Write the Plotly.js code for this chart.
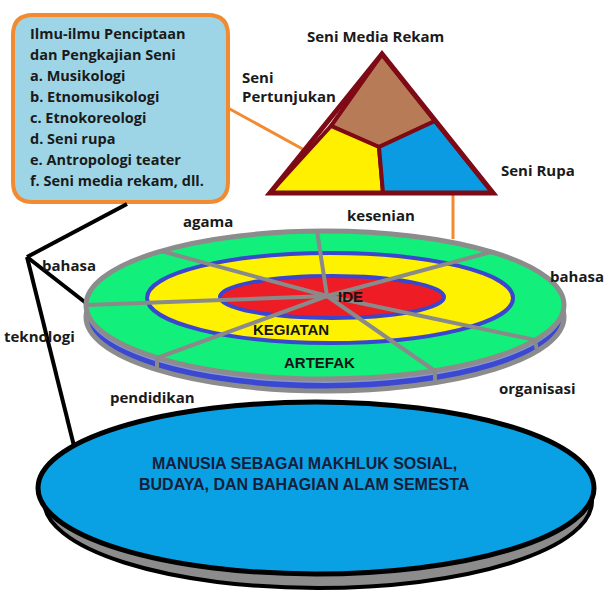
<!DOCTYPE html>
<html><head><meta charset="utf-8">
<script src="https://cdn.plot.ly/plotly-3.0.1.min.js"></script>
<style>html,body{margin:0;padding:0;background:#fff}#chart{width:604px;height:597px}</style>
</head><body><div id="chart"></div>
<script>
// ---- text content ----
const calloutLines = [
  "Ilmu-ilmu Penciptaan",
  "dan Pengkajian Seni",
  "a. Musikologi",
  "b. Etnomusikologi",
  "c. Etnokoreologi",
  "d. Seni rupa",
  "e. Antropologi teater",
  "f. Seni media rekam, dll."
];
const triangleLabels = ["Seni Media Rekam", "Seni", "Pertunjukan", "Seni Rupa"];
const discAspects = ["agama", "kesenian", "bahasa", "bahasa", "teknologi", "pendidikan", "organisasi"];
const ringLabels = ["IDE", "KEGIATAN", "ARTEFAK"];
const baseLines = ["MANUSIA SEBAGAI MAKHLUK SOSIAL,", "BUDAYA, DAN BAHAGIAN ALAM SEMESTA"];

// ---- layout geometry (pixel space) ----
const calloutPos = calloutLines.map((t, i) => [28, 33 + i * 21]);
const trianglePos = [[375, 36, 'center'], [240, 77, 'left'], [240, 96, 'left'], [499, 170, 'left']];
const aspectPos = [[208, 221], [381, 215], [69, 265], [548, 276, 'left'], [39, 336], [152, 397], [537, 388]];
const ringPos = [[350, 296], [291, 329], [319, 362]];
const basePos = [[304, 463], [304, 484]];

const shapes = [];
const line = (x0, y0, x1, y1, color, width) =>
  shapes.push({type: 'line', x0, y0, x1, y1, line: {color, width}});
const ellipse = (x0, y0, x1, y1, fill, color, width) =>
  shapes.push({type: 'circle', x0, y0, x1, y1, fillcolor: fill, line: {color, width: width}});
const path = (d, fill, color, width) =>
  shapes.push({type: 'path', path: d, fillcolor: fill, line: {color, width}});

// callout box
path("M33,15 L208,15 Q228,15 228,35 L228,182 Q228,202 208,202 L33,202 Q13,202 13,182 L13,35 Q13,15 33,15 Z",
  "#9dd5e7", "#f28a30", 4);
// orange connectors
line(228, 108, 308, 152, "#f28a30", 3);
line(453, 193, 453, 239, "#f28a30", 3);
// black connector lines
line(127, 204, 27, 257, "#000", 4);
line(27, 257, 86, 303, "#000", 4);
line(27, 257, 74, 446, "#000", 4);

// base ellipse
ellipse(44, 414, 592, 588, "#8c8c8c", "#000", 4);
ellipse(38, 402, 594, 574, "#0aa0e4", "#000", 5);

// disc
ellipse(86, 243, 564, 391, "#3a48d2", "#8c8c8c", 5);
ellipse(86, 235, 564, 383, "#8a98d6", "rgba(0,0,0,0)", 0);
ellipse(86, 231, 564, 379, "#12ef7b", "#8c8c8c", 5);
ellipse(147, 253, 513, 343, "#fff200", "#3a46cf", 4);
ellipse(220, 276, 444, 318, "#ee1c25", "#3a46cf", 4);
const cx = 327, cy = 296;
const spokeEnds = [[317, 231], [161, 251], [87, 305], [157, 358], [435, 371], [535, 340], [491, 252]];
spokeEnds.forEach(p => line(cx, cy, p[0], p[1], "#8a8a8a", 4));
line(157, 358, 157, 370, "#8a8a8a", 4);
line(435, 371, 435, 383, "#8a8a8a", 4);
line(535, 340, 537, 351, "#8a8a8a", 4);

// triangle
const dr = "#7d0a14";
path("M382,54 L331,126 L379,147 L435,121 Z", "#b87b58", dr, 4);
path("M331,126 L270,193 L383,193 L379,147 Z", "#fff000", dr, 4);
path("M379,147 L435,121 L493,193 L383,193 Z", "#0a9be2", dr, 4);
path("M382,54 L270,193 L493,193 Z", "rgba(0,0,0,0)", dr, 5);

// ---- annotations ----
const ann = [];
const sans = {family: "Open Sans, sans-serif", size: 15, color: "#1a1a1a", weight: 700};
const boxFont = Object.assign({}, sans, {size: 14.5});
calloutLines.forEach((t, i) => ann.push({x: calloutPos[i][0], y: calloutPos[i][1], text: t,
  xanchor: 'left', yanchor: 'middle', showarrow: false, font: boxFont}));
triangleLabels.forEach((t, i) => ann.push({x: trianglePos[i][0], y: trianglePos[i][1], text: t,
  xanchor: trianglePos[i][2], yanchor: 'middle', showarrow: false, font: sans}));
discAspects.forEach((t, i) => ann.push({x: aspectPos[i][0], y: aspectPos[i][1], text: t,
  xanchor: aspectPos[i][2] || 'center', yanchor: 'middle', showarrow: false, font: sans}));
const arial = {family: "Liberation Sans, Arial, sans-serif", size: 15, color: "#151515", weight: 700};
ringLabels.forEach((t, i) => ann.push({x: ringPos[i][0], y: ringPos[i][1], text: t,
  xanchor: 'center', yanchor: 'middle', showarrow: false, font: arial}));
baseLines.forEach((t, i) => ann.push({x: basePos[i][0], y: basePos[i][1], text: t,
  xanchor: 'center', yanchor: 'middle', showarrow: false,
  font: {family: "Liberation Sans, Arial, sans-serif", size: 16, color: "#14203a", weight: 700}}));

const layout = {
  width: 604, height: 597,
  margin: {l: 0, r: 0, t: 0, b: 0},
  paper_bgcolor: "#fff", plot_bgcolor: "#fff",
  xaxis: {range: [0, 604], visible: false, fixedrange: true},
  yaxis: {range: [597, 0], visible: false, fixedrange: true},
  showlegend: false,
  shapes: shapes,
  annotations: ann
};
Plotly.newPlot('chart', [], layout, {displayModeBar: false, staticPlot: true});
</script>
</body></html>
